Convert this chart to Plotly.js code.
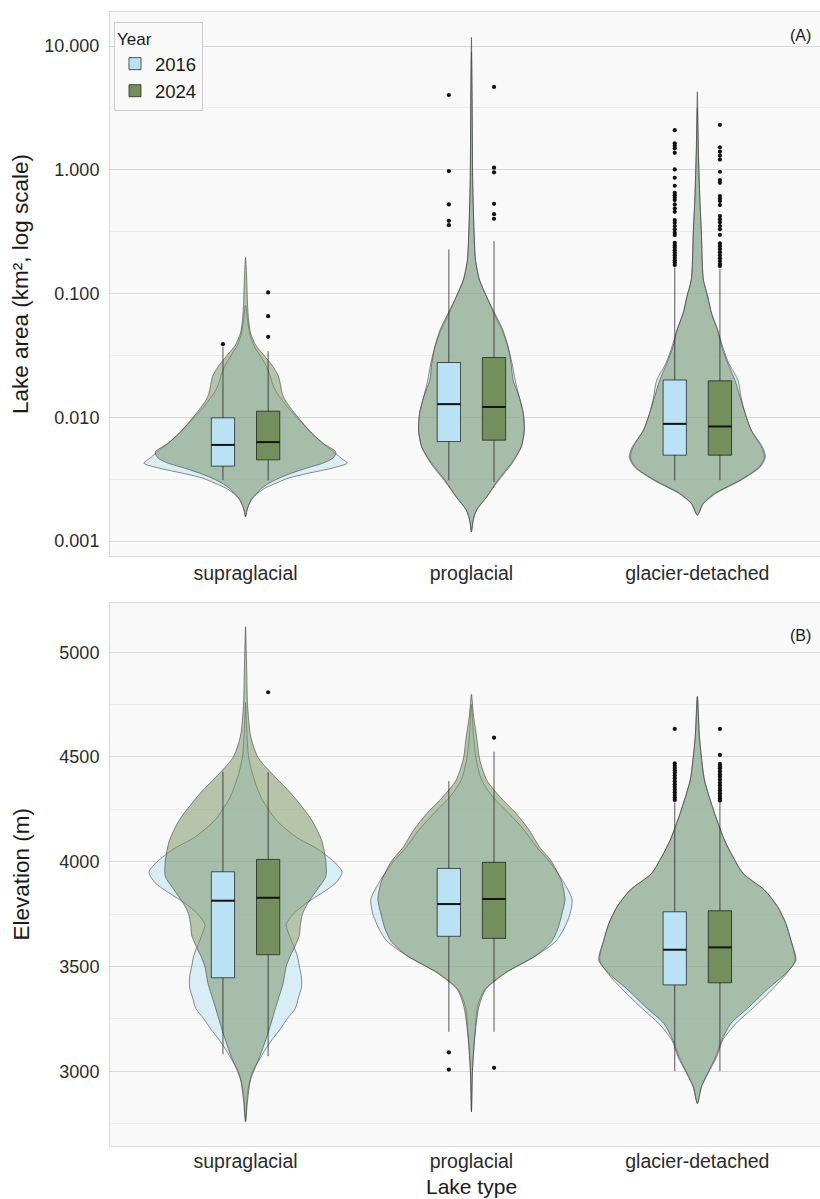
<!DOCTYPE html>
<html>
<head>
<meta charset="utf-8">
<script src="https://cdn.plot.ly/plotly-3.0.1.min.js"></script>
<style>
  html, body { margin: 0; padding: 0; background: #ffffff; }
  #chart { width: 820px; height: 1199px; }
</style>
</head>
<body>
<div id="chart"></div>
<script>
// ---- Categories -------------------------------------------------------
const lakeTypes = ['supraglacial', 'proglacial', 'glacier-detached'];
const yearLabels = ['2016', '2024'];

// ---- Panel A: lake area box statistics (km²) ---------------------------
const areaQ1_2016  = [0.00403, 0.00637, 0.00494];
const areaMed_2016 = [0.00598, 0.01277, 0.00885];
const areaQ3_2016  = [0.0099, 0.0277, 0.0200];
const areaLo_2016  = [0.0031, 0.0031, 0.0031];
const areaHi_2016  = [0.037, 0.227, 0.163];

const areaQ1_2024  = [0.00453, 0.00653, 0.00494];
const areaMed_2024 = [0.0063, 0.0121, 0.00843];
const areaQ3_2024  = [0.0112, 0.0304, 0.0197];
const areaLo_2024  = [0.0031, 0.0030, 0.0031];
const areaHi_2024  = [0.0342, 0.265, 0.157];

// Outliers (km²)
const areaOut_supra_2016 = [0.039];
const areaOut_supra_2024 = [0.102, 0.0656, 0.0447];
const areaOut_pro_2016 = [4.02, 0.976, 0.525, 0.387, 0.357];
const areaOut_pro_2024 = [4.67, 1.04, 0.953, 0.531, 0.438, 0.402];
const areaOut_gla_2016 = [2.09, 1.635, 1.563, 1.49, 1.372, 1.007, 0.862, 0.743, 0.652, 0.624,
  0.594, 0.569, 0.525, 0.487, 0.457, 0.392, 0.373, 0.351, 0.330, 0.310, 0.297, 0.257, 0.246,
  0.235, 0.224, 0.214, 0.204, 0.195, 0.186, 0.178, 0.170];
const areaOut_gla_2024 = [2.31, 1.52, 1.40, 1.30, 1.21, 0.964, 0.826, 0.785, 0.613, 0.583,
  0.559, 0.519, 0.423, 0.399, 0.376, 0.351, 0.330, 0.298, 0.254, 0.2415, 0.2285, 0.216, 0.204,
  0.193, 0.183, 0.173, 0.167];

// Violin density profiles for lake area: levels are log10(km²), density relative (1 = widest)
const supraLogA_2016 = [-1.094,-1.215,-1.320,-1.417,-1.498,-1.579,-1.660,-1.741,-1.805,-1.862,-1.943,-2.023,-2.128,-2.209,-2.282,-2.330,-2.371,-2.411,-2.452,-2.492,-2.533,-2.573,-2.614,-2.654,-2.711,-2.759,-2.805];
const supraDenA_2016 = [0,0.02,0.04,0.08,0.14,0.20,0.24,0.27,0.31,0.36,0.44,0.53,0.65,0.76,0.87,0.94,1.00,0.85,0.62,0.42,0.30,0.19,0.12,0.07,0.03,0.012,0];
const supraLogA_2024 = [-0.708,-0.851,-0.973,-1.094,-1.215,-1.320,-1.417,-1.498,-1.579,-1.660,-1.724,-1.805,-1.862,-1.943,-2.023,-2.128,-2.209,-2.282,-2.330,-2.371,-2.411,-2.452,-2.492,-2.533,-2.573,-2.614,-2.654,-2.711,-2.759,-2.805];
const supraDenA_2024 = [0,0.01,0.015,0.02,0.03,0.05,0.10,0.18,0.26,0.32,0.34,0.36,0.39,0.46,0.54,0.65,0.76,0.89,0.86,0.76,0.60,0.45,0.33,0.23,0.16,0.11,0.065,0.03,0.012,0];

const proLogA_2016 = [0.95,0.563,-0.083,-0.487,-0.730,-0.892,-1.027,-1.161,-1.296,-1.431,-1.565,-1.700,-1.835,-1.969,-2.104,-2.239,-2.373,-2.508,-2.643,-2.751,-2.832,-2.926];
const proDenA_2016 = [0,0.006,0.012,0.025,0.04,0.08,0.15,0.22,0.30,0.36,0.40,0.43,0.47,0.51,0.52,0.49,0.40,0.27,0.15,0.05,0.017,0];
const proLogA_2024 = [1.070,0.563,-0.083,-0.487,-0.730,-0.892,-1.027,-1.161,-1.296,-1.431,-1.565,-1.700,-1.835,-1.969,-2.104,-2.239,-2.373,-2.508,-2.643,-2.751,-2.832,-2.926];
const proDenA_2024 = [0,0.007,0.012,0.025,0.04,0.08,0.15,0.23,0.31,0.36,0.39,0.41,0.47,0.51,0.52,0.49,0.39,0.26,0.15,0.05,0.017,0];

const glaLogA_2016 = [0.50,0.159,-0.245,-0.512,-0.784,-0.892,-1.027,-1.161,-1.296,-1.431,-1.565,-1.700,-1.835,-1.969,-2.104,-2.239,-2.320,-2.401,-2.508,-2.616,-2.697,-2.791];
const glaDenA_2016 = [0,0.01,0.025,0.04,0.05,0.06,0.10,0.14,0.20,0.25,0.31,0.40,0.43,0.47,0.53,0.64,0.67,0.62,0.43,0.18,0.06,0];
const glaLogA_2024 = [0.631,0.159,-0.245,-0.512,-0.784,-0.892,-1.027,-1.161,-1.296,-1.431,-1.565,-1.700,-1.835,-1.969,-2.104,-2.239,-2.320,-2.401,-2.508,-2.616,-2.697,-2.791];
const glaDenA_2024 = [0,0.01,0.025,0.04,0.05,0.06,0.105,0.14,0.20,0.24,0.30,0.37,0.42,0.47,0.53,0.63,0.66,0.61,0.42,0.17,0.056,0];

// ---- Panel B: elevation box statistics (m) -----------------------------
const elevQ1_2016  = [3446, 3644, 3412];
const elevMed_2016 = [3814, 3798, 3580];
const elevQ3_2016  = [3952, 3968, 3761];
const elevLo_2016  = [3081, 3188, 3000];
const elevHi_2016  = [4430, 4385, 4283];

const elevQ1_2024  = [3556, 3634, 3422];
const elevMed_2024 = [3828, 3822, 3591];
const elevQ3_2024  = [4011, 3997, 3766];
const elevLo_2024  = [3072, 3188, 3000];
const elevHi_2024  = [4427, 4525, 4280];

const elevOut_supra_2016 = [];
const elevOut_supra_2024 = [4809];
const elevOut_pro_2016 = [3090, 3008];
const elevOut_pro_2024 = [4592, 3016];
const elevOut_gla_2016 = [4634, 4470, 4458, 4447, 4436, 4425, 4412, 4398, 4384, 4370, 4357, 4344, 4331, 4318, 4306, 4295];
const elevOut_gla_2024 = [4634, 4510, 4467, 4455, 4446, 4432, 4418, 4406, 4392, 4378, 4365, 4352, 4340, 4327, 4314, 4302, 4292];

// Violin density profiles for elevation (m), density relative (1 = widest)
const supraElev_2016 = [4760,4650,4500,4400,4300,4200,4120,4060,4000,3950,3900,3850,3800,3750,3700,3650,3600,3550,3500,3450,3400,3350,3300,3250,3200,3150,3100,3050,3000,2900,2760];
const supraDenB_2016 = [0,0.01,0.03,0.08,0.16,0.30,0.49,0.71,0.87,0.95,0.89,0.75,0.59,0.47,0.40,0.43,0.47,0.51,0.53,0.55,0.55,0.52,0.49,0.41,0.34,0.26,0.19,0.13,0.07,0.02,0];
const supraElev_2024 = [5122,4950,4750,4600,4500,4420,4330,4200,4100,4000,3930,3870,3800,3750,3700,3650,3600,3550,3500,3420,3310,3180,3070,2960,2860,2760];
const supraDenB_2024 = [0,0.01,0.02,0.05,0.12,0.26,0.44,0.65,0.75,0.79,0.79,0.71,0.61,0.56,0.54,0.53,0.49,0.44,0.40,0.37,0.30,0.22,0.14,0.05,0.02,0];

const proElev_2016 = [4750,4600,4480,4390,4310,4230,4150,4070,4000,3900,3820,3750,3680,3620,3550,3470,3390,3310,3150,3000,2806];
const proDenB_2016 = [0,0.02,0.05,0.10,0.21,0.37,0.52,0.64,0.77,0.91,0.99,0.97,0.91,0.83,0.63,0.33,0.13,0.06,0.03,0.01,0];
const proElev_2024 = [4799,4700,4600,4490,4390,4310,4230,4150,4070,4000,3900,3820,3750,3680,3620,3550,3470,3390,3310,3150,3000,2806];
const proDenB_2024 = [0,0.02,0.05,0.08,0.15,0.28,0.44,0.57,0.67,0.79,0.89,0.92,0.89,0.85,0.79,0.63,0.34,0.14,0.075,0.03,0.01,0];

const glaElev_2016 = [4788,4600,4500,4390,4230,4100,4024,3944,3865,3785,3706,3626,3530,3467,3387,3307,3228,3148,3068,2989,2925,2846];
const glaDenB_2016 = [0,0.02,0.04,0.07,0.17,0.27,0.35,0.45,0.66,0.79,0.87,0.92,0.96,0.88,0.73,0.56,0.38,0.25,0.19,0.105,0.04,0];
const glaElev_2024 = [4788,4600,4500,4390,4230,4100,4024,3944,3865,3785,3706,3626,3530,3467,3387,3307,3228,3148,3068,2989,2925,2846];
const glaDenB_2024 = [0,0.02,0.04,0.07,0.17,0.27,0.35,0.45,0.66,0.79,0.87,0.92,0.97,0.87,0.68,0.51,0.33,0.24,0.18,0.10,0.04,0];

// ---- Styling ----------------------------------------------------------
const FONT = 'Liberation Sans, Arial, Helvetica, sans-serif';
const COL_2016 = '#b9e2f5';
const COL_2024 = '#748f5b';
const VIOLIN_2016 = 'rgba(185,226,245,0.5)';
const VIOLIN_2024 = 'rgba(116,143,91,0.5)';
const VIOLIN_HALF = 0.45;   // widest violin half-width, category units
const DODGE = 0.1;          // box offset from the category centre
const BOX_W = 0.103;

const toArea = v => Math.pow(10, v);
const toElev = v => v;

function violinShape(center, levels, dens, toY, fill, ya) {
  const xs = [], ys = [];
  for (let i = 0; i < levels.length; i++) {
    xs.push(center + dens[i] * VIOLIN_HALF); ys.push(toY(levels[i]));
  }
  for (let i = levels.length - 2; i >= 1; i--) {
    xs.push(center - dens[i] * VIOLIN_HALF); ys.push(toY(levels[i]));
  }
  xs.push(xs[0]); ys.push(ys[0]);
  return {
    type: 'scatter', mode: 'lines', x: xs, y: ys, fill: 'toself', fillcolor: fill,
    line: { color: 'rgba(60,60,60,0.65)', width: 0.9, shape: 'spline', smoothing: 0.7 },
    xaxis: ya === 'y' ? 'x' : 'x2', yaxis: ya, showlegend: false, hoverinfo: 'skip'
  };
}

function boxTrace(name, offset, q1, med, q3, lo, hi, fill, ya, showLegend) {
  return {
    type: 'box', name: name, legendgroup: name, showlegend: showLegend,
    x: lakeTypes.map((_, i) => i + 1 + offset),
    q1: q1, median: med, q3: q3, lowerfence: lo, upperfence: hi,
    width: BOX_W, whiskerwidth: 0, boxpoints: false,
    fillcolor: fill, line: { color: 'rgba(25,25,25,0.72)', width: 1 },
    xaxis: ya === 'y3' ? 'x' : 'x2', yaxis: ya, hoverinfo: 'skip'
  };
}

function medianTrace(offset, med, ya) {
  const xs = [], ys = [];
  med.forEach((m, i) => {
    const c = i + 1 + offset;
    xs.push(c - BOX_W / 2, c + BOX_W / 2, null);
    ys.push(m, m, null);
  });
  return {
    type: 'scatter', mode: 'lines', x: xs, y: ys,
    line: { color: '#151515', width: 2 }, showlegend: false, hoverinfo: 'skip',
    xaxis: ya === 'y3' ? 'x' : 'x2', yaxis: ya
  };
}

function outlierTrace(offset, groups, ya) {
  const xs = [], ys = [];
  groups.forEach((vals, i) => {
    vals.forEach(v => { xs.push(i + 1 + offset); ys.push(v); });
  });
  return {
    type: 'scatter', mode: 'markers', x: xs, y: ys,
    marker: { color: '#111111', size: 4.2 }, showlegend: false, hoverinfo: 'skip',
    xaxis: ya === 'y3' ? 'x' : 'x2', yaxis: ya
  };
}

const traces = [
  // Panel A violins
  violinShape(1, supraLogA_2016, supraDenA_2016, toArea, VIOLIN_2016, 'y'),
  violinShape(2, proLogA_2016, proDenA_2016, toArea, VIOLIN_2016, 'y'),
  violinShape(3, glaLogA_2016, glaDenA_2016, toArea, VIOLIN_2016, 'y'),
  violinShape(1, supraLogA_2024, supraDenA_2024, toArea, VIOLIN_2024, 'y'),
  violinShape(2, proLogA_2024, proDenA_2024, toArea, VIOLIN_2024, 'y'),
  violinShape(3, glaLogA_2024, glaDenA_2024, toArea, VIOLIN_2024, 'y'),
  // Panel B violins
  violinShape(1, supraElev_2016, supraDenB_2016, toElev, VIOLIN_2016, 'y2'),
  violinShape(2, proElev_2016, proDenB_2016, toElev, VIOLIN_2016, 'y2'),
  violinShape(3, glaElev_2016, glaDenB_2016, toElev, VIOLIN_2016, 'y2'),
  violinShape(1, supraElev_2024, supraDenB_2024, toElev, VIOLIN_2024, 'y2'),
  violinShape(2, proElev_2024, proDenB_2024, toElev, VIOLIN_2024, 'y2'),
  violinShape(3, glaElev_2024, glaDenB_2024, toElev, VIOLIN_2024, 'y2'),
  // Panel A boxes (overlay axis so they sit above the violins)
  boxTrace(yearLabels[0], -DODGE, areaQ1_2016, areaMed_2016, areaQ3_2016, areaLo_2016, areaHi_2016, COL_2016, 'y3', true),
  boxTrace(yearLabels[1], DODGE, areaQ1_2024, areaMed_2024, areaQ3_2024, areaLo_2024, areaHi_2024, COL_2024, 'y3', true),
  medianTrace(-DODGE, areaMed_2016, 'y3'),
  medianTrace(DODGE, areaMed_2024, 'y3'),
  outlierTrace(-DODGE, [areaOut_supra_2016, areaOut_pro_2016, areaOut_gla_2016], 'y3'),
  outlierTrace(DODGE, [areaOut_supra_2024, areaOut_pro_2024, areaOut_gla_2024], 'y3'),
  // Panel B boxes
  boxTrace(yearLabels[0], -DODGE, elevQ1_2016, elevMed_2016, elevQ3_2016, elevLo_2016, elevHi_2016, COL_2016, 'y4', false),
  boxTrace(yearLabels[1], DODGE, elevQ1_2024, elevMed_2024, elevQ3_2024, elevLo_2024, elevHi_2024, COL_2024, 'y4', false),
  medianTrace(-DODGE, elevMed_2016, 'y4'),
  medianTrace(DODGE, elevMed_2024, 'y4'),
  outlierTrace(-DODGE, [elevOut_supra_2016, elevOut_pro_2016, elevOut_gla_2016], 'y4'),
  outlierTrace(DODGE, [elevOut_supra_2024, elevOut_pro_2024, elevOut_gla_2024], 'y4')
];

const W = 820, H = 1199;
const xDomain = [110 / W, 1];
const domA = [1 - 556 / H, 1 - 12 / H];
const domB = [1 - 1146 / H, 1 - 603 / H];
const xRange = [0.4, 3.543];
const areaRange = [-3.121, 1.275];
const elevRange = [2643, 5235];

const xTickFont = { family: FONT, size: 19.5, color: '#2b2b2b' };
const yTickFont = { family: FONT, size: 18, color: '#2b2b2b' };
const borderCol = '#d9d9d9';

const xCommon = {
  range: xRange, domain: xDomain, tickvals: [1, 2, 3], ticktext: lakeTypes,
  showgrid: false, zeroline: false, showline: true, mirror: true,
  linecolor: borderCol, linewidth: 1, ticks: '', tickfont: xTickFont,
  ticklabelstandoff: 0, fixedrange: true
};

const layout = {
  width: W, height: H,
  margin: { l: 0, r: 0, t: 0, b: 0 },
  paper_bgcolor: '#ffffff', plot_bgcolor: '#f9f9f9',
  font: { family: FONT, color: '#1a1a1a' },
  showlegend: true,
  xaxis: Object.assign({}, xCommon, { anchor: 'y' }),
  xaxis2: Object.assign({}, xCommon, { anchor: 'y2', ticklabelstandoff: -2 }),
  yaxis: {
    type: 'log', range: areaRange, domain: domA, anchor: 'x',
    tickvals: [0.001, 0.01, 0.1, 1, 10],
    ticktext: ['0.001', '0.010', '0.100', '1.000', '10.000'],
    gridcolor: '#d8d8d8', gridwidth: 1, zeroline: false,
    showline: true, linecolor: borderCol, ticks: '', tickfont: yTickFont,
    ticklabelstandoff: 6,
    minor: { tickvals: [0.003162, 0.03162, 0.3162, 3.162], showgrid: true, gridcolor: '#ececec', ticks: '' },
    fixedrange: true
  },
  yaxis2: {
    range: elevRange, domain: domB, anchor: 'x2',
    tickvals: [3000, 3500, 4000, 4500, 5000],
    gridcolor: '#d8d8d8', gridwidth: 1, zeroline: false,
    showline: true, linecolor: borderCol, ticks: '', tickfont: yTickFont,
    ticklabelstandoff: 6,
    minor: { tickvals: [2750, 3250, 3750, 4250, 4750], showgrid: true, gridcolor: '#ececec', ticks: '' },
    fixedrange: true
  },
  yaxis3: { type: 'log', range: areaRange, overlaying: 'y', anchor: 'x', visible: false, fixedrange: true },
  yaxis4: { range: elevRange, overlaying: 'y2', anchor: 'x2', visible: false, fixedrange: true },
  legend: {
    x: 114 / W, y: 1 - 22 / H, xanchor: 'left', yanchor: 'top',
    bgcolor: '#f9f9f9', bordercolor: '#cccccc', borderwidth: 1,
    font: { family: FONT, size: 18.5, color: '#1a1a1a' },
    title: { text: 'Year', font: { family: FONT, size: 17, color: '#1a1a1a' } },
    tracegroupgap: 0, itemwidth: 30
  },
  annotations: [
    { text: 'Lake area (km², log scale)', xref: 'paper', yref: 'paper', x: 21 / W, y: 1 - 284 / H,
      textangle: -90, showarrow: false, xanchor: 'center', yanchor: 'middle',
      font: { family: FONT, size: 22.5, color: '#1a1a1a' } },
    { text: 'Elevation (m)', xref: 'paper', yref: 'paper', x: 21 / W, y: 1 - 874.5 / H,
      textangle: -90, showarrow: false, xanchor: 'center', yanchor: 'middle',
      font: { family: FONT, size: 22.5, color: '#1a1a1a' } },
    { text: 'Lake type', xref: 'paper', yref: 'paper', x: 471.5 / W, y: 1 - 1186 / H,
      showarrow: false, xanchor: 'center', yanchor: 'middle',
      font: { family: FONT, size: 21, color: '#1a1a1a' } },
    { text: '(A)', xref: 'paper', yref: 'paper', x: 800 / W, y: 1 - 35.5 / H,
      showarrow: false, xanchor: 'center', yanchor: 'middle',
      font: { family: FONT, size: 16, color: '#1a1a1a' } },
    { text: '(B)', xref: 'paper', yref: 'paper', x: 800 / W, y: 1 - 635.5 / H,
      showarrow: false, xanchor: 'center', yanchor: 'middle',
      font: { family: FONT, size: 16, color: '#1a1a1a' } }
  ]
};

Plotly.newPlot('chart', traces, layout, { displayModeBar: false, staticPlot: true });
</script>
</body>
</html>
